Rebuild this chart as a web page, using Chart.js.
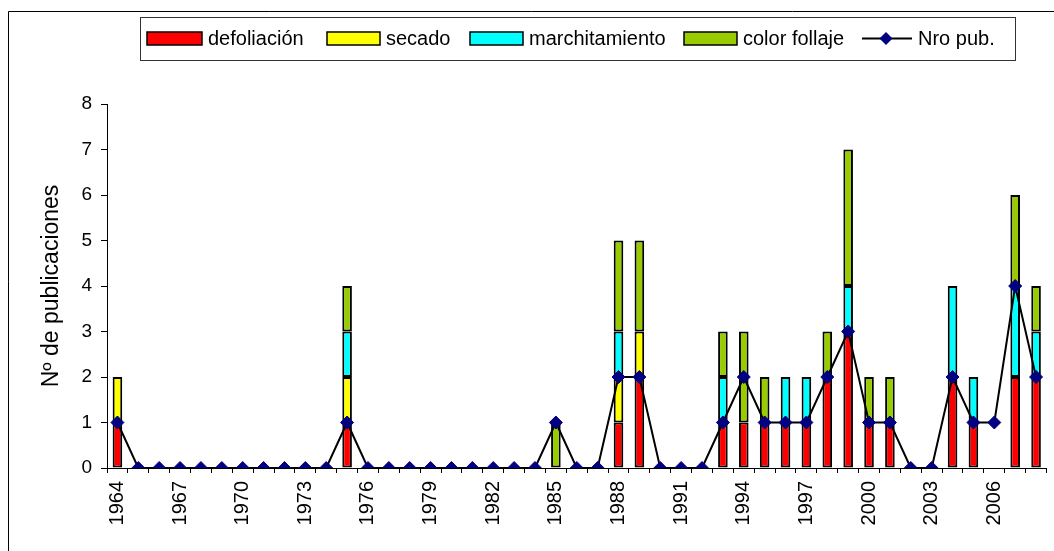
<!DOCTYPE html>
<html>
<head>
<meta charset="utf-8">
<script src="https://cdn.jsdelivr.net/npm/chart.js@4/dist/chart.umd.min.js"></script>
<style>
  html, body { margin: 0; padding: 0; background: #fff; }
  #wrap { position: relative; width: 1054px; height: 551px; }
</style>
</head>
<body>
<div id="wrap"><canvas id="chart" width="1054" height="551"></canvas></div>
<script>
const years = [
  "1964", "1965", "1966", "1967", "1968", "1969", "1970", "1971", "1972", "1973",
  "1974", "1975", "1976", "1977", "1978", "1979", "1980", "1981", "1982", "1983",
  "1984", "1985", "1986", "1987", "1988", "1989", "1990", "1991", "1992", "1993",
  "1994", "1995", "1996", "1997", "1998", "1999", "2000", "2001", "2002", "2003",
  "2004", "2005", "2006", "2007", "2008"
];

const defoliacion = [
  1, 0, 0, 0, 0, 0, 0, 0, 0, 0,
  0, 1, 0, 0, 0, 0, 0, 0, 0, 0,
  0, 0, 0, 0, 1, 2, 0, 0, 0, 1,
  1, 1, 1, 1, 2, 3, 1, 1, 0, 0,
  2, 1, 0, 2, 2
];
const secado = [
  1, 0, 0, 0, 0, 0, 0, 0, 0, 0,
  0, 1, 0, 0, 0, 0, 0, 0, 0, 0,
  0, 0, 0, 0, 1, 1, 0, 0, 0, 0,
  0, 0, 0, 0, 0, 0, 0, 0, 0, 0,
  0, 0, 0, 0, 0
];
const marchitamiento = [
  0, 0, 0, 0, 0, 0, 0, 0, 0, 0,
  0, 1, 0, 0, 0, 0, 0, 0, 0, 0,
  0, 0, 0, 0, 1, 0, 0, 0, 0, 1,
  0, 0, 1, 1, 0, 1, 0, 0, 0, 0,
  2, 1, 0, 2, 1
];
const colorFollaje = [
  0, 0, 0, 0, 0, 0, 0, 0, 0, 0,
  0, 1, 0, 0, 0, 0, 0, 0, 0, 0,
  0, 1, 0, 0, 2, 2, 0, 0, 0, 1,
  2, 1, 0, 0, 1, 3, 1, 1, 0, 0,
  0, 0, 0, 2, 1
];
const nroPub = [
  1, 0, 0, 0, 0, 0, 0, 0, 0, 0,
  0, 1, 0, 0, 0, 0, 0, 0, 0, 0,
  0, 1, 0, 0, 2, 2, 0, 0, 0, 1,
  2, 1, 1, 1, 2, 3, 1, 1, 0, 0,
  2, 1, 1, 4, 2
];
const yTicks = [0, 1, 2, 3, 4, 5, 6, 7, 8];

const FONT = "'Liberation Sans', Arial, sans-serif";
const NAVY = "#000080";

// empty segments are left out so no zero-height outline shows
const seg = (arr) => arr.map((v) => (v === 0 ? null : v));

const barSet = (label, data, color) => ({
  type: "bar",
  label,
  data: seg(data),
  backgroundColor: color,
  borderColor: "#000",
  borderWidth: 2,
  borderSkipped: false,
  categoryPercentage: 1,
  barPercentage: 0.46,
  stack: "temas",
  order: 1,
});

// legend in a framed box above the plot, plus the outer chart frame
const boxLegend = {
  id: "boxLegend",
  afterDraw(chart, args, opts) {
    const ctx = chart.ctx;
    ctx.save();
    ctx.strokeStyle = "#000";
    ctx.lineWidth = 1;
    ctx.beginPath();
    ctx.moveTo(8.5, 551);
    ctx.lineTo(8.5, 11.5);
    ctx.lineTo(1054, 11.5);
    ctx.stroke();

    ctx.strokeStyle = "#333";
    ctx.strokeRect(opts.left + 0.5, opts.top + 0.5, opts.right - opts.left, opts.bottom - opts.top);

    const cy = (opts.top + opts.bottom) / 2;
    ctx.font = "20px " + FONT;
    ctx.textBaseline = "middle";
    ctx.fillStyle = "#000";
    opts.items.forEach((it) => {
      const ds = chart.data.datasets[it.ds];
      if (ds.type === "bar") {
        ctx.fillStyle = ds.backgroundColor;
        ctx.fillRect(it.x, cy - 6.5, it.w, 13);
        ctx.strokeStyle = "#000";
        ctx.lineWidth = 1.5;
        ctx.strokeRect(it.x, cy - 6.5, it.w, 13);
      } else {
        ctx.strokeStyle = "#000";
        ctx.lineWidth = 2;
        ctx.beginPath();
        ctx.moveTo(it.x, cy);
        ctx.lineTo(it.x + it.w, cy);
        ctx.stroke();
        const mx = it.x + 24;
        ctx.fillStyle = NAVY;
        ctx.beginPath();
        ctx.moveTo(mx - 6.5, cy);
        ctx.lineTo(mx, cy - 6.5);
        ctx.lineTo(mx + 6.5, cy);
        ctx.lineTo(mx, cy + 6.5);
        ctx.closePath();
        ctx.fill();
      }
      ctx.fillStyle = "#000";
      ctx.fillText(ds.label, it.x + it.w + 6, cy + 1);
    });
    ctx.restore();
  },
};

new Chart(document.getElementById("chart"), {
  data: {
    labels: years,
    datasets: [
      {
        type: "line",
        label: "Nro pub.",
        data: nroPub,
        borderColor: "#000",
        borderWidth: 2,
        pointStyle: "rectRot",
        pointRadius: 6.5,
        pointHoverRadius: 6.5,
        pointBackgroundColor: NAVY,
        pointBorderColor: NAVY,
        pointBorderWidth: 1,
        tension: 0,
        stack: "pub",
        order: 0,
      },
      barSet("defoliación", defoliacion, "#ff0000"),
      barSet("secado", secado, "#ffff00"),
      barSet("marchitamiento", marchitamiento, "#00ffff"),
      barSet("color follaje", colorFollaje, "#99cc00"),
    ],
  },
  options: {
    responsive: false,
    animation: false,
    layout: { padding: { top: 104, right: 7, bottom: 0, left: 0 } },
    plugins: {
      legend: { display: false },
      tooltip: { enabled: false },
      boxLegend: {
        left: 140, top: 17, right: 1015, bottom: 60,
        items: [
          { ds: 1, x: 147, w: 55 },
          { ds: 2, x: 327, w: 53 },
          { ds: 3, x: 470, w: 53 },
          { ds: 4, x: 684, w: 53 },
          { ds: 0, x: 862, w: 50 },
        ],
      },
    },
    scales: {
      x: {
        stacked: true,
        offset: true,
        grid: {
          display: true,
          offset: true,
          drawOnChartArea: false,
          drawTicks: true,
          tickLength: 5,
          color: "#000",
        },
        border: { display: true, color: "#000", width: 1 },
        ticks: {
          autoSkip: false,
          minRotation: 90,
          maxRotation: 90,
          padding: 8,
          color: "#000",
          font: { family: FONT, size: 20 },
          callback: function (value, index) {
            return index % 3 === 0 ? years[index] : "";
          },
        },
        afterFit(scale) {
          scale.height = 83;
          scale.paddingLeft = 0;
          scale.paddingRight = 0;
        },
      },
      y: {
        stacked: true,
        min: 0,
        max: 8,
        grid: {
          display: true,
          drawOnChartArea: false,
          drawTicks: true,
          tickLength: 6,
          color: "#000",
        },
        border: { display: true, color: "#000", width: 1 },
        afterBuildTicks(scale) {
          scale.ticks = yTicks.map((v) => ({ value: v }));
        },
        ticks: {
          padding: 9,
          color: "#000",
          font: { family: FONT, size: 19 },
        },
        title: {
          display: true,
          text: "Nº de publicaciones",
          color: "#000",
          font: { family: FONT, size: 23 },
          padding: { top: 38, bottom: 0 },
        },
        afterFit(scale) {
          scale.width = 107;
          scale.paddingTop = 0;
          scale.paddingBottom = 0;
        },
      },
    },
  },
  plugins: [boxLegend],
});
</script>
</body>
</html>
